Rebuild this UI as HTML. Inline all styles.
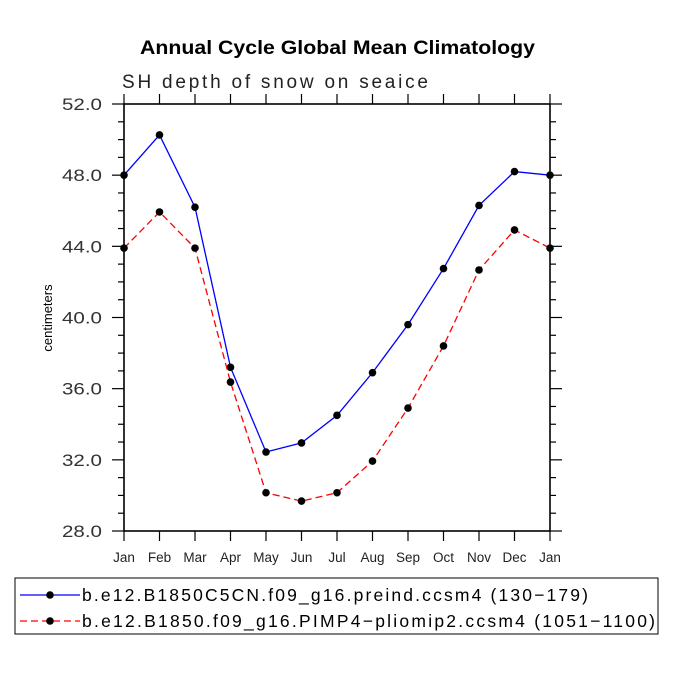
<!DOCTYPE html>
<html><head><meta charset="utf-8"><style>
body{margin:0;background:#fff}
svg text{font-family:"Liberation Sans",sans-serif}
</style></head><body>
<svg id="chart" width="675" height="675" viewBox="0 0 675 675" xmlns="http://www.w3.org/2000/svg">
<rect width="675" height="675" fill="#fff"/>
<text x="140" y="54" font-size="19" font-weight="bold" textLength="395" lengthAdjust="spacingAndGlyphs">Annual Cycle Global Mean Climatology</text>
<text x="122" y="88" font-size="19" fill="#222" textLength="306" lengthAdjust="spacing">SH depth of snow on seaice</text>
<text transform="translate(52,318) rotate(-90)" text-anchor="middle" font-size="13">centimeters</text>
<g id="axes"></g>
<g id="series"></g>
<rect x="15" y="578" width="643" height="56" fill="none" stroke="#000" stroke-width="1"/>
<g>
<line x1="20" y1="595" x2="80" y2="595" stroke="#0000ff" stroke-width="1.3"/>
<circle cx="50" cy="595" r="3.8"/>
<text x="82" y="601" font-size="17.5" textLength="506" lengthAdjust="spacing">b.e12.B1850C5CN.f09_g16.preind.ccsm4 (130−179)</text>
</g>
<g>
<line x1="20" y1="621" x2="80" y2="621" stroke="#ff0000" stroke-width="1.3" stroke-dasharray="7,4"/>
<circle cx="50" cy="621" r="3.8"/>
<text x="82" y="627" font-size="17.5" textLength="573" lengthAdjust="spacing">b.e12.B1850.f09_g16.PIMP4−pliomip2.ccsm4 (1051−1100)</text>
</g>
</svg>
<script>
const months = ["Jan","Feb","Mar","Apr","May","Jun","Jul","Aug","Sep","Oct","Nov","Dec","Jan"];
const preindValues = [48.0,50.26,46.2,37.2,32.44,32.95,34.5,36.9,39.6,42.75,46.3,48.2,48.0];
const pliomipValues = [43.9,45.93,43.9,36.37,30.15,29.68,30.15,31.93,34.91,38.4,42.67,44.92,43.9];
const yTicks = ["28.0","32.0","36.0","40.0","44.0","48.0","52.0"];
const yMin = 28, yMax = 52;
const X0=124, X1=550, Y0=531, Y1=104;
const NS="http://www.w3.org/2000/svg";
function xs(i){return X0+(X1-X0)*i/(months.length-1);}
function ys(v){return Y0-(Y0-Y1)*(v-yMin)/(yMax-yMin);}
function mk(tag,attrs,parent){const e=document.createElementNS(NS,tag);for(const k in attrs)e.setAttribute(k,attrs[k]);parent.appendChild(e);return e;}
const axes=document.getElementById('axes');
const frame=mk('rect',{x:X0,y:Y1,width:X1-X0,height:Y0-Y1,fill:'none',stroke:'#000','stroke-width':1.6},axes);


for(let v=yMin;v<=yMax;v+=1){
  const major=(v-yMin)%4===0;const L=major?12:6;const y=ys(v);
  mk('line',{x1:X0-L,y1:y,x2:X0,y2:y,stroke:'#000','stroke-width':1.2},axes);
  mk('line',{x1:X1,y1:y,x2:X1+L,y2:y,stroke:'#000','stroke-width':1.2},axes);
}
yTicks.forEach(t=>{
  const tx=mk('text',{x:62,y:ys(parseFloat(t))+6,'font-size':16.5,fill:'#333',textLength:40,lengthAdjust:'spacingAndGlyphs'},axes);
  tx.textContent=t;
  
  
});
months.forEach((m,i)=>{
  const x=xs(i);
  mk('line',{x1:x,y1:Y0,x2:x,y2:Y0+10,stroke:'#000','stroke-width':1.2},axes);
  mk('line',{x1:x,y1:Y1-10,x2:x,y2:Y1,stroke:'#000','stroke-width':1.2},axes);
  const tx=mk('text',{x:x,y:Y0+31,'text-anchor':'middle','font-size':13.5,fill:'#222'},axes);
  tx.textContent=m;
  
  
});
const series=document.getElementById('series');
function draw(vals,color,dash,name){
  const g=mk('g',{},series);
  
  
  const pts=vals.map((v,i)=>xs(i)+','+ys(v)).join(' ');
  const attrs={points:pts,fill:'none',stroke:color,'stroke-width':1.3};
  if(dash)attrs['stroke-dasharray']=dash;
  mk('polyline',attrs,g);
  vals.forEach((v,i)=>{
    const c=mk('circle',{cx:xs(i),cy:ys(v),r:3.8,fill:'#000'},g);
    
    
  });
}
draw(preindValues,'#0000ff',null,'series-preind');
draw(pliomipValues,'#ff0000','7,4','series-pliomip');
</script>
</body></html>
